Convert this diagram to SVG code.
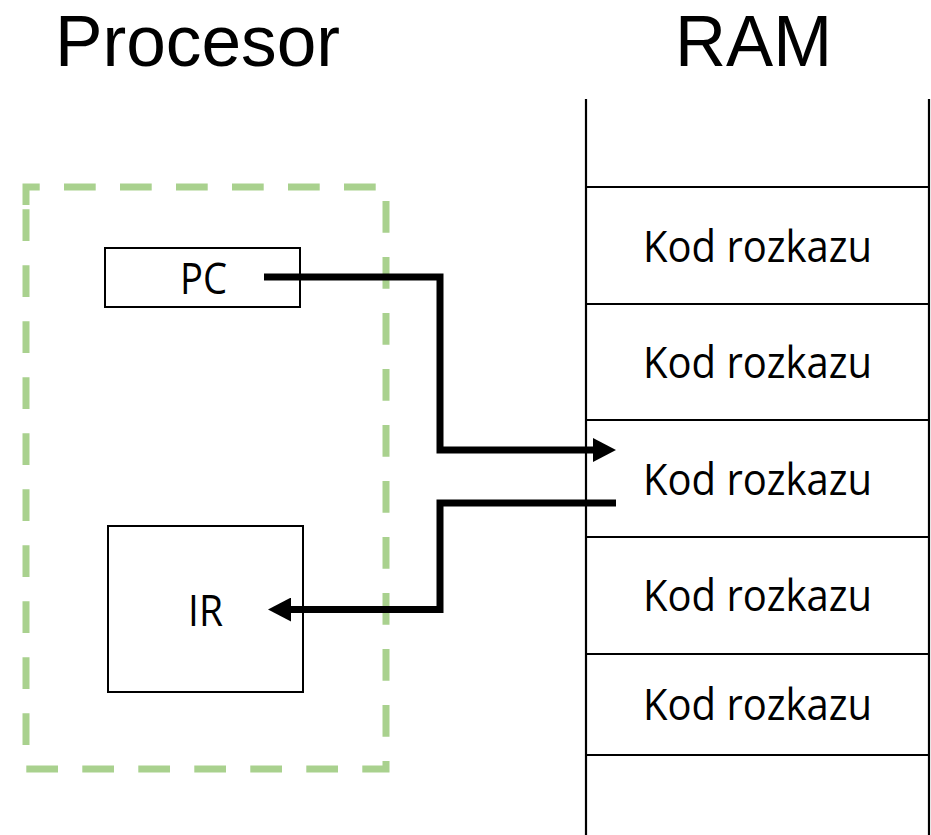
<svg xmlns="http://www.w3.org/2000/svg" width="931" height="835" viewBox="0 0 931 835">
  <defs>
    <style>
      .t { font-family: "Open Sans", "Noto Sans", "Liberation Sans", sans-serif; fill: #000; text-anchor: middle; }
      .title { font-family: "Liberation Sans", "Open Sans", sans-serif; font-size: 72px; }
      .lbl { font-size: 43px; }
      .box { fill: #fff; stroke: #000; stroke-width: 2; }
      .ram { fill: none; stroke: #000; stroke-width: 2.2; }
      .conn { fill: none; stroke: #000; stroke-width: 7; stroke-linejoin: miter; stroke-linecap: butt; }
      .cpu { fill: none; stroke: #A9D18E; stroke-width: 7; stroke-dasharray: 31.7 24.3; stroke-linejoin: miter; }
    </style>
    <marker id="arrow" markerUnits="userSpaceOnUse" markerWidth="24" markerHeight="24" refX="2" refY="12" orient="auto" viewBox="0 0 24 24">
      <path d="M0,0 L23,12 L0,24 Z" fill="#000"/>
    </marker>
  </defs>
  <rect width="931" height="835" fill="#fff"/>

  <g id="title-procesor">
    <text class="t title" x="197.5" y="66" textLength="285" lengthAdjust="spacingAndGlyphs">Procesor</text>
  </g>
  <g id="title-ram">
    <text class="t title" x="753.5" y="66" textLength="157" lengthAdjust="spacingAndGlyphs">RAM</text>
  </g>

  <g id="procesor">
    <path class="cpu" d="M26,205 V187 H386 V769 H26 Z"/>
  </g>

  <g id="ram">
    <line class="ram" x1="586" y1="99" x2="586" y2="835"/>
    <line class="ram" x1="929" y1="99" x2="929" y2="835"/>
    <line class="ram" x1="586" y1="187" x2="929" y2="187"/>
    <line class="ram" x1="586" y1="304" x2="929" y2="304"/>
    <line class="ram" x1="586" y1="420" x2="929" y2="420"/>
    <line class="ram" x1="586" y1="537" x2="929" y2="537"/>
    <line class="ram" x1="586" y1="654" x2="929" y2="654"/>
    <line class="ram" x1="586" y1="755" x2="929" y2="755"/>
  </g>
  <g id="ram-cell-1">
    <text class="t lbl" x="757.5" y="262" textLength="229" lengthAdjust="spacingAndGlyphs">Kod rozkazu</text>
  </g>
  <g id="ram-cell-2">
    <text class="t lbl" x="757.5" y="378" textLength="229" lengthAdjust="spacingAndGlyphs">Kod rozkazu</text>
  </g>
  <g id="ram-cell-3">
    <text class="t lbl" x="757.5" y="495" textLength="229" lengthAdjust="spacingAndGlyphs">Kod rozkazu</text>
  </g>
  <g id="ram-cell-4">
    <text class="t lbl" x="757.5" y="611" textLength="229" lengthAdjust="spacingAndGlyphs">Kod rozkazu</text>
  </g>
  <g id="ram-cell-5">
    <text class="t lbl" x="757.5" y="720" textLength="229" lengthAdjust="spacingAndGlyphs">Kod rozkazu</text>
  </g>

  <g id="pc">
    <rect class="box" x="105" y="248" width="195" height="59"/>
    <text class="t lbl" x="203.5" y="294" textLength="47" lengthAdjust="spacingAndGlyphs">PC</text>
  </g>
  <g id="ir">
    <rect class="box" x="108" y="526" width="195" height="166"/>
    <text class="t lbl" x="205.5" y="626" textLength="35" lengthAdjust="spacingAndGlyphs">IR</text>
  </g>

  <g id="connectors">
    <path class="conn" d="M264,277 H440 V450 H595" marker-end="url(#arrow)"/>
    <path class="conn" d="M616,503 H440 V609.5 H289" marker-end="url(#arrow)"/>
  </g>
</svg>
